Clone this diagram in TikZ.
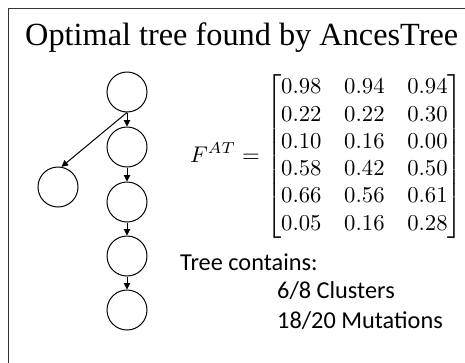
\documentclass[tikz,border=0pt]{standalone}
\usepackage{amsmath}
\usepackage{graphicx}
\usepackage[no-math]{fontspec}
\newfontfamily\titlefont{Liberation Serif}
\newfontfamily\notefont{Carlito}
\usetikzlibrary{arrows.meta}

\tikzset{
  clone/.style={circle, draw, line width=1pt, minimum size=40pt, inner sep=0pt},
  edge/.style={line width=1pt, -{Triangle[length=6.5pt,width=6.5pt]}},
  note/.style={anchor=base west, inner sep=0pt, font=\notefont\fontsize{24.3}{29}\selectfont},
}

\begin{document}
\begin{tikzpicture}[x=1pt,y=-1pt]
  \useasboundingbox (0,0) rectangle (465,362);
  \clip (0,0) rectangle (465,362);

  % panel frame, running off the right and bottom edges
  \draw[line width=1.4pt, black!80] (8.5,8.5) rectangle (480,380);

  % heading
  \node[anchor=base west, inner sep=0pt, font=\titlefont\fontsize{32.3}{38}\selectfont]
    (title) at (25,45) {Optimal tree found by AncesTree};

  % tree of clones
  \node[clone] (c1) at (127,92) {};
  \node[clone] (c2) at (127,147) {};
  \node[clone] (c3) at (127,202) {};
  \node[clone] (c4) at (127,256) {};
  \node[clone] (c5) at (127,310) {};
  \node[clone] (c6) at (58,187) {};

  \draw[edge] (c1.south) -- (c2.north);
  \draw[edge] (c2.south) -- (c3.north);
  \draw[edge] (c3.south) -- (c4.north);
  \draw[edge] (c4.south) -- (c5.north);
  \draw[edge] (c1.south) -- (c6.80);

  % frequency matrix, set at 10pt and enlarged
  \node[anchor=east, inner sep=0pt] (mat) at (463,156.5)
    {\scalebox{2.27}{$F^{AT} = \begin{bmatrix}
      0.98 & 0.94 & 0.94\\
      0.22 & 0.22 & 0.30\\
      0.10 & 0.16 & 0.00\\
      0.58 & 0.42 & 0.50\\
      0.66 & 0.56 & 0.61\\
      0.05 & 0.16 & 0.28
    \end{bmatrix}$}};

  % summary
  \node[note] (summary) at (180,270) {Tree contains:};
  \node[note] (clusters) at (277,298) {6/8 Clusters};
  \node[note] (mutations) at (277,328) {18/20 Mutations};
\end{tikzpicture}
\end{document}
